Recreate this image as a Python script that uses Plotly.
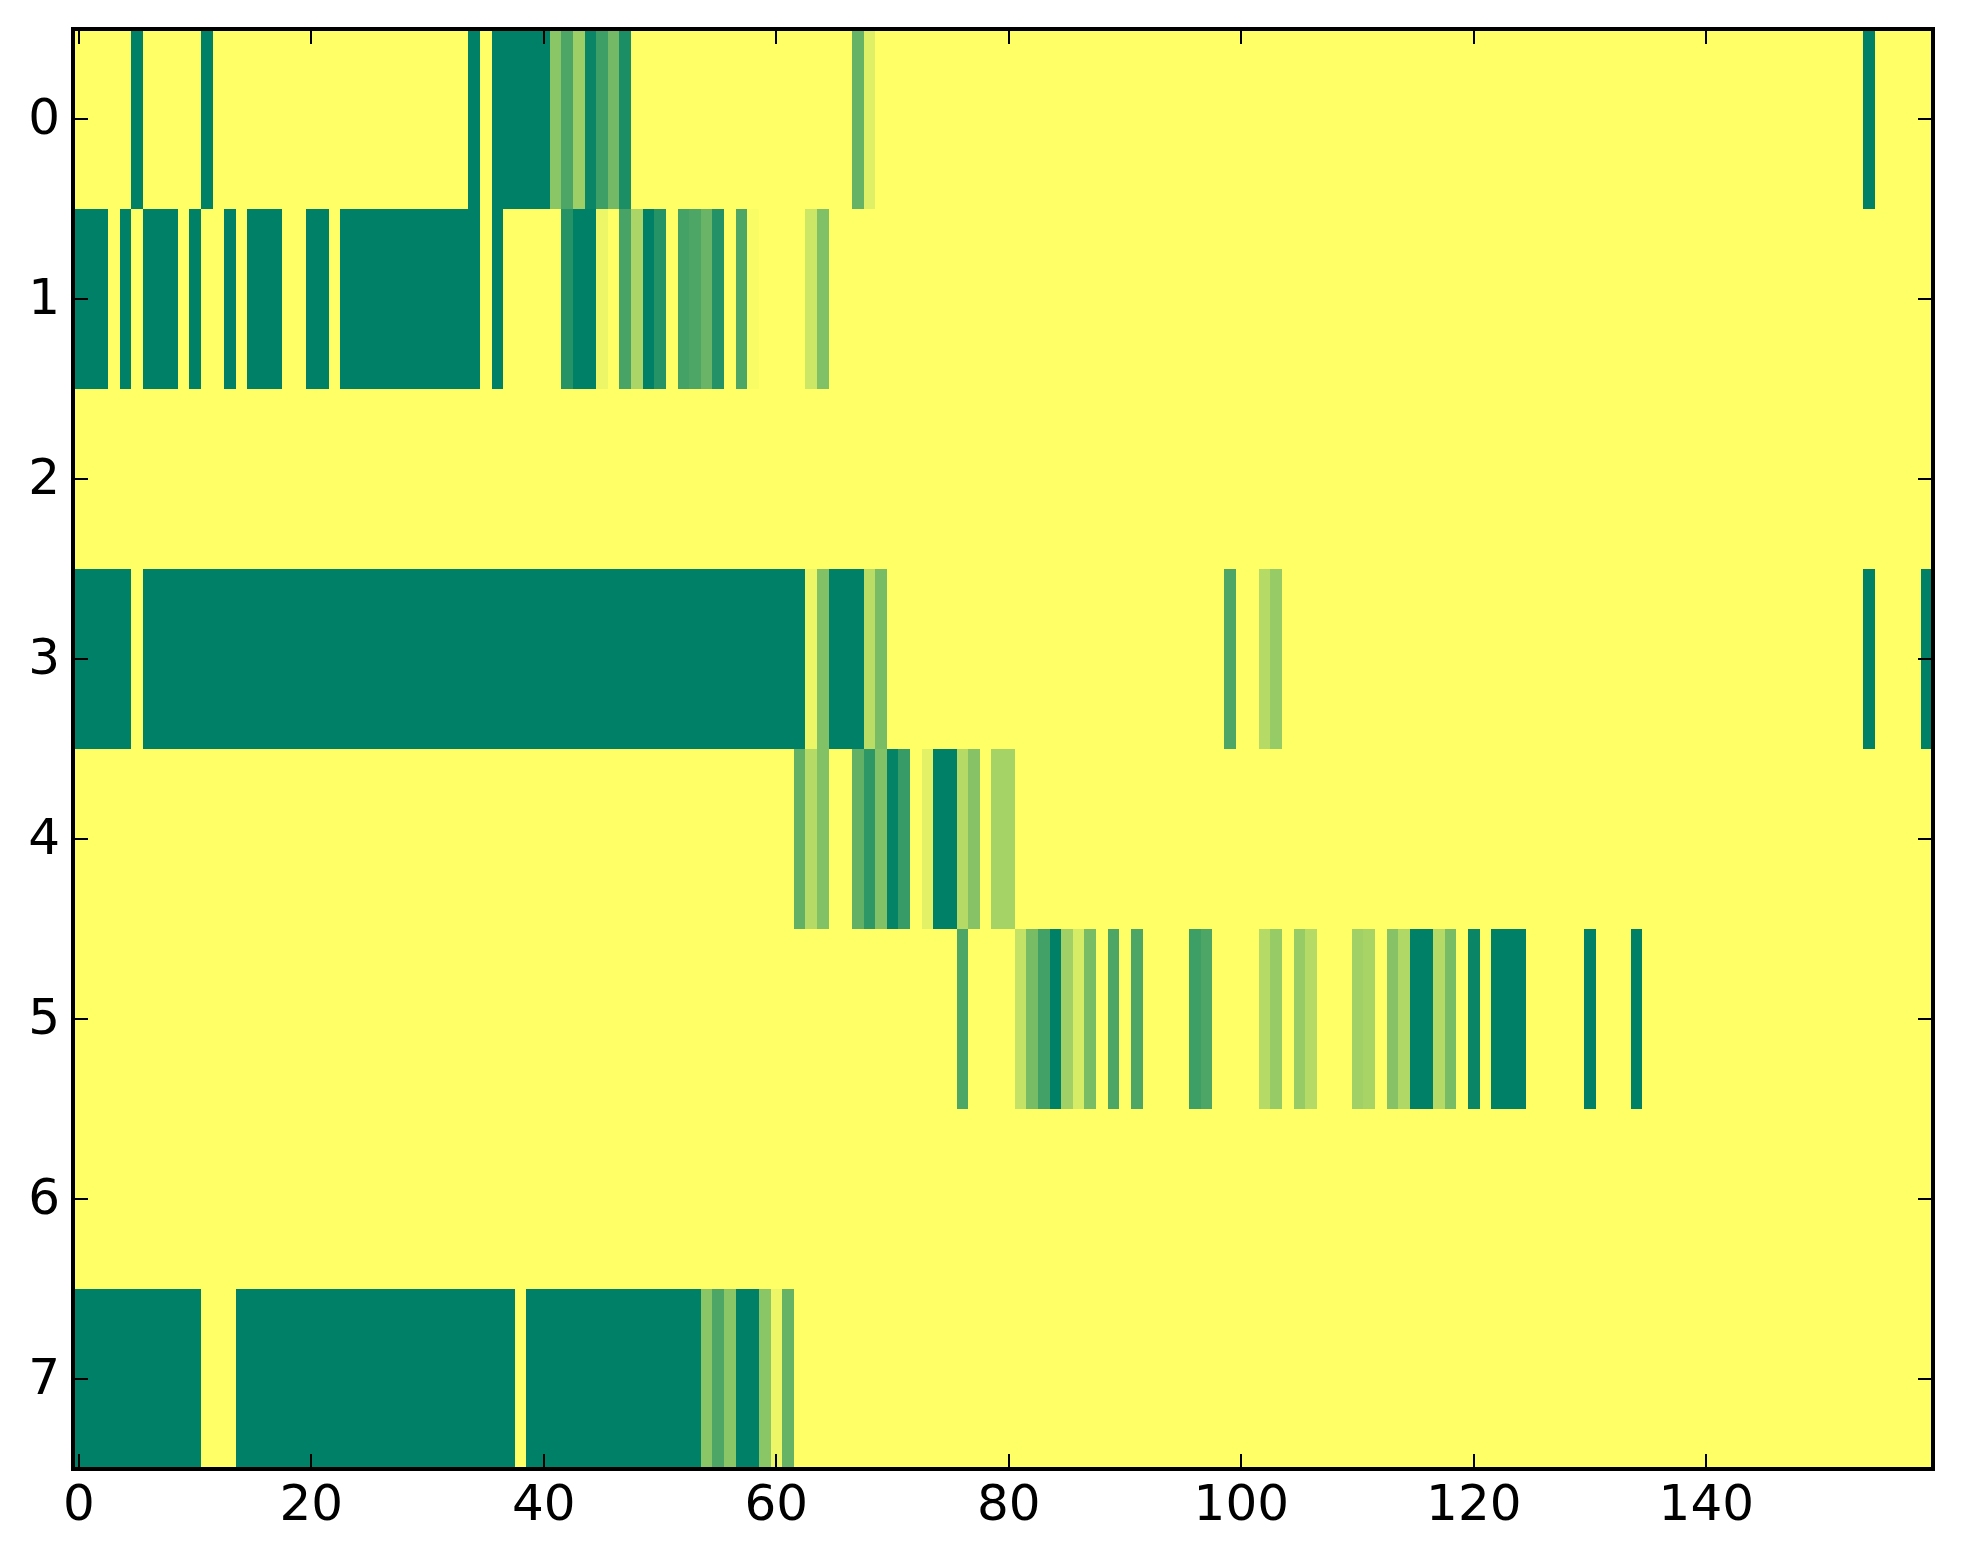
import plotly.graph_objects as go

N_COLS = 160
N_ROWS = 8

x_ticks = list(range(0, 160, 20))
y_ticks = list(range(0, 8))

# each row: column -> value, everything else is 0
row_0 = {5: 1, 11: 1, 34: 1, 36: 1, 37: 1, 38: 1, 39: 1, 40: 1, 41: .46, 42: .70, 43: .38, 44: .96,
         45: .76, 46: .55, 47: .89, 67: .60, 68: .12, 154: 1}
row_1 = {0: 1, 1: 1, 2: 1, 4: 1, 6: 1, 7: 1, 8: 1, 10: 1, 13: 1, 15: 1, 16: 1, 17: 1, 20: 1, 21: 1,
         23: 1, 24: 1, 25: 1, 26: 1, 27: 1, 28: 1, 29: 1, 30: 1, 31: 1, 32: 1, 33: 1, 34: 1, 36: 1,
         42: .85, 43: 1, 44: 1, 45: .07, 47: .72, 48: .33, 49: 1, 50: .85, 52: .73, 53: .70, 54: .59,
         55: .86, 57: .70, 58: .02, 63: .20, 64: .50}
row_2 = {}
row_3 = {0: 1, 1: 1, 2: 1, 3: 1, 4: 1, 6: 1, 7: 1, 8: 1, 9: 1, 10: 1, 11: 1, 12: 1, 13: 1, 14: 1, 15: 1,
         16: 1, 17: 1, 18: 1, 19: 1, 20: 1, 21: 1, 22: 1, 23: 1, 24: 1, 25: 1, 26: 1, 27: 1, 28: 1,
         29: 1, 30: 1, 31: 1, 32: 1, 33: 1, 34: 1, 35: 1, 36: 1, 37: 1, 38: 1, 39: 1, 40: 1, 41: 1,
         42: 1, 43: 1, 44: 1, 45: 1, 46: 1, 47: 1, 48: 1, 49: 1, 50: 1, 51: 1, 52: 1, 53: 1, 54: 1,
         55: 1, 56: 1, 57: 1, 58: 1, 59: 1, 60: 1, 61: 1, 62: 1, 63: .07, 64: .49, 65: 1, 66: 1, 67: 1,
         68: .27, 69: .53, 99: .70, 102: .29, 103: .41, 154: 1, 159: 1}
row_4 = {62: .62, 63: .29, 64: .49, 67: .62, 68: .82, 69: .49, 70: .98, 71: .79, 73: .11, 74: 1, 75: 1,
         76: .29, 77: .47, 79: .35, 80: .35}
row_5 = {76: .70, 81: .23, 82: .53, 83: .74, 84: 1, 85: .37, 86: .16, 87: .53, 89: .70, 91: .70,
         96: .76, 97: .70, 102: .29, 103: .41, 105: .41, 106: .29, 110: .37, 111: .34, 113: .47,
         114: .31, 115: 1, 116: 1, 117: .29, 118: .53, 120: .96, 122: 1, 123: 1, 124: 1, 130: 1, 134: 1}
row_6 = {}
row_7 = {0: 1, 1: 1, 2: 1, 3: 1, 4: 1, 5: 1, 6: 1, 7: 1, 8: 1, 9: 1, 10: 1, 14: 1, 15: 1, 16: 1, 17: 1,
         18: 1, 19: 1, 20: 1, 21: 1, 22: 1, 23: 1, 24: 1, 25: 1, 26: 1, 27: 1, 28: 1, 29: 1, 30: 1,
         31: 1, 32: 1, 33: 1, 34: 1, 35: 1, 36: 1, 37: 1, 39: 1, 40: 1, 41: 1, 42: 1, 43: 1, 44: 1,
         45: 1, 46: 1, 47: 1, 48: 1, 49: 1, 50: 1, 51: 1, 52: 1, 53: 1, 54: .46, 55: .70, 56: .46,
         57: 1, 58: 1, 59: .46, 60: .07, 61: .60}

rows = [row_0, row_1, row_2, row_3, row_4, row_5, row_6, row_7]
z = [[r.get(c, 0) for c in range(N_COLS)] for r in rows]

axis_style = dict(showgrid=False, zeroline=False, showline=False, mirror='ticks', ticks='inside',
                  ticklen=15, tickwidth=1.5, tickcolor='black',
                  tickfont=dict(family='DejaVu Sans', size=50, color='black'))

fig = go.Figure(go.Heatmap(z=z, colorscale=[[0, '#FFFF66'], [1, '#008066']], zmin=0, zmax=1,
                           showscale=False, hoverongaps=False))
fig.update_xaxes(range=[-0.5, 159.5], tickvals=x_ticks, tickangle=0, **axis_style)
fig.update_yaxes(range=[7.5, -0.5], tickvals=y_ticks, ticklabelshift=3, ticklabelstandoff=12, **axis_style)
fig.update_layout(width=1947, height=1548, margin=dict(l=65, r=21.5, t=21, b=87), plot_bgcolor='white',
                  paper_bgcolor='white')
# frame sits centred on the plot edge, over the image like matplotlib spines
fig.add_shape(type='rect', xref='paper', yref='paper', x0=0, x1=1, y0=0, y1=1,
              line=dict(color='black', width=4), layer='above')

fig.write_html("out.html")
